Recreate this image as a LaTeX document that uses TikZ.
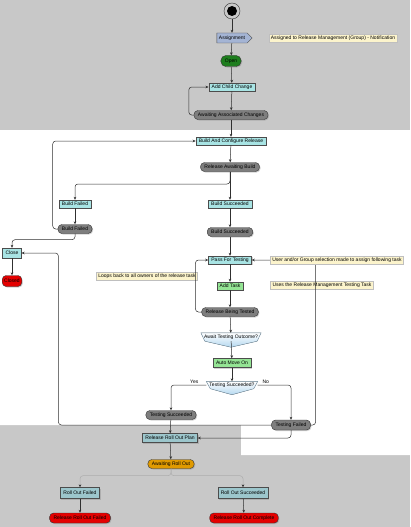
\documentclass[tikz,border=0pt]{standalone}
\usepackage{fontspec}
\setmainfont{Liberation Sans}
\usepackage{tikz}
\usetikzlibrary{
arrows.meta,
positioning,
shapes.symbols,
calc,
backgrounds,
shadows
}
\definecolor{rmgray}{HTML}{C8C8C8}
\definecolor{rmcyan}{HTML}{A8E4E4}
\definecolor{rmteal}{HTML}{9CC6CC}
\definecolor{rmstate}{HTML}{7E7E7E}
\definecolor{rmgreen}{HTML}{1E7E1E}
\definecolor{rmlime}{HTML}{94E494}
\definecolor{rmred}{HTML}{E40000}
\definecolor{rmorange}{HTML}{E09A00}
\definecolor{rmnote}{HTML}{FCF4CC}
\definecolor{rmline}{HTML}{303030}
\definecolor{rmsignal}{HTML}{A4B4D4}
\definecolor{rmdec}{HTML}{B4D8F0}

\newcommand{\decshape}[1]{%
  \begin{scope}[on background layer]
    \filldraw[draw=rmdec!70!black, top color=white, bottom color=rmdec]
      (#1.north west) -- (#1.north east) -- ($(#1.south east)+(-4,0)$)
      -- ($(#1.south)+(0,6)$) -- ($(#1.south west)+(4,0)$) -- cycle;
  \end{scope}}

\begin{document}
\begin{tikzpicture}[
  x=1pt, y=-1pt,
  >={Stealth[length=3pt, width=2.6pt]},
  every node/.style={font=\fontsize{5}{6}\selectfont, inner sep=1pt},
  actbox/.style={
    draw=black!70, fill=rmcyan, minimum height=8pt, inner xsep=3pt,
    drop shadow={shadow xshift=1pt, shadow yshift=-1pt, opacity=.35}
  },
  planbox/.style={actbox, fill=rmteal, minimum height=9pt},
  statebox/.style={
    draw=black!80, fill=rmstate, rounded corners=4pt,
    minimum height=9pt, inner xsep=4pt,
    drop shadow={shadow xshift=1pt, shadow yshift=-1pt, opacity=.35}
  },
  notebox/.style={draw=black!25, fill=rmnote, minimum height=8pt, inner xsep=2pt},
  decbox/.style={minimum height=8pt, inner xsep=3pt},
  flow/.style={->, draw=rmline, line width=0.5pt},
  loopflow/.style={flow, rounded corners=3pt},
  faintflow/.style={-{Stealth[length=3pt, width=2.6pt, color=rmline]},
    draw=black!32, line width=0.5pt, rounded corners=3pt}
]
\useasboundingbox (0,0) rectangle (410,527);

%% ============================================================
%%  BACKGROUND
%% ============================================================
\begin{scope}[on background layer]
  \fill[rmgray] (0,0) rectangle (410,527);
  \fill[white] (0,130) -- (410,130) -- (410,455) -- (241,455)
    -- (241,425) -- (0,425) -- cycle;
\end{scope}

%% ============================================================
%%  ASSIGNMENT
%% ============================================================
\node[circle, draw=black!80, minimum size=16pt, inner sep=0pt] (start) at (232,11) {};
\fill[black] (start.center) circle (5pt);

\node[signal, signal to=east, draw=black!70, fill=rmsignal, minimum height=10pt,
  inner xsep=2pt] (assign) at (232,38) {Assignment};
\node[notebox] (noteassign) at (333,38)
  {Assigned to Release Management (Group) - Notification};

\node[statebox, fill=rmgreen, rounded corners=5pt, minimum height=11pt,
  minimum width=20pt] (open) at (231,61) {Open};

\node[actbox] (addchild) at (232,87) {Add Child Change};
\node[statebox] (awaitassoc) at (231,115) {Awaiting Associated Changes};

\draw[flow] (start) -- (assign);
\draw[flow] (assign) -- (open);
\draw[flow] (open) -- (addchild);
\draw[flow] (addchild) -- (awaitassoc);
\draw[loopflow] (awaitassoc.west) -- ++(-5,0) |- (addchild.west);

%% ============================================================
%%  BUILD
%% ============================================================
\node[actbox] (buildcfg) at (231,141) {Build And Configure Release};
\node[statebox] (relawait) at (230,167) {Release Awaiting Build};
\coordinate (forkbuild) at (230,184);

\node[actbox] (bfailbox) at (75,204) {Build Failed};
\node[statebox] (bfail) at (75,229) {Build Failed};
\node[actbox] (bsuccbox) at (230,204) {Build Succeeded};
\node[statebox] (bsucc) at (230,232) {Build Succeeded};

\node[actbox, minimum height=10pt] (close) at (12,253) {Close};
\node[statebox, fill=rmred, minimum height=11pt, inner xsep=2pt] (closed) at (12,281) {Closed};

\draw[flow] (awaitassoc) -- (buildcfg);
\draw[flow] (buildcfg) -- (relawait);
\draw[flow] (relawait) -- (bsuccbox);
\draw[loopflow] (relawait.south) -- (forkbuild) -| (bfailbox.north);
\draw[flow] (bfailbox) -- (bfail);
\draw[flow] (bsuccbox) -- (bsucc);
\draw[loopflow] (bfail.west) -- ++(-5,0) |- (buildcfg.west);
\draw[loopflow] (bfail.south) -- ++(0,6) -| (close.north);
\draw[flow] (close) -- (closed);

%% ============================================================
%%  TESTING
%% ============================================================
\node[actbox] (passtest) at (230,260) {Pass For Testing};
\node[actbox, fill=rmlime] (addtask) at (230,286) {Add Task};
\node[statebox] (relbeing) at (230,312) {Release Being Tested};

\node[notebox] (noteloops) at (147,276) {Loops back to all owners of the release task};
\node[notebox] (noteuses) at (322,285) {Uses the Release Management Testing Task};

\node[decbox] (awaitout) at (231,337) {Await Testing Outcome?};
\decshape{awaitout}
\node[actbox, fill=rmlime, minimum height=9pt] (automove) at (232,363) {Auto Move On};
\node[decbox, minimum height=7pt] (testdec) at (232,385) {Testing Succeeded?};
\decshape{testdec}

\node[statebox] (tsucc) at (171,415) {Testing Succeeded};
\node[statebox, minimum height=10pt] (tfail) at (291,425) {Testing Failed};

\draw[flow] (bsucc) -- (passtest);
\draw[flow] (passtest) -- (addtask);
\draw[flow] (addtask) -- (relbeing);
\draw[loopflow] (relbeing.west) -- ++(-6,0) |- (passtest.west);
\draw[flow] (relbeing) -- (awaitout);
\draw[flow] (awaitout) -- (automove);
\draw[flow] (automove) -- (testdec);
\draw[loopflow] (testdec.west) -| node[pos=0.17, above, inner sep=1.5pt] {Yes} (tsucc.north);
\draw[loopflow] (testdec.east) -| node[pos=0.12, above, inner sep=1.5pt] {No} (tfail.north);
\draw[loopflow] (tfail.east) -- ++(5,0) |- (passtest.east);
\draw[loopflow] (tfail.west) -- ++(-213,0) |- (close.east);

%% note sits on top of the loop line
\node[notebox] (noteuser) at (337,260)
  {User and/or Group selection made to assign following task};

%% ============================================================
%%  ROLL OUT
%% ============================================================
\node[planbox] (rollplan) at (170,438) {Release Roll Out Plan};
\node[statebox, fill=rmorange] (awaitroll) at (171,464) {Awaiting Roll Out};

\node[planbox, minimum height=11pt] (rofail) at (80,493) {Roll Out Failed};
\node[planbox, minimum height=11pt] (rosucc) at (243,493) {Roll Out Succeeded};
\node[statebox, fill=rmred, minimum height=10pt] (rofailed) at (80,518) {Release Roll Out Failed};
\node[statebox, fill=rmred, minimum height=10pt] (rocomplete) at (244,518) {Release Roll Out Complete};

\draw[flow] (tsucc) -- (rollplan);
\draw[loopflow] (tfail.south) |- (rollplan.east);
\draw[flow] (rollplan) -- (awaitroll);
\draw[faintflow] (awaitroll.south) -- ++(0,7) -| (rofail.north);
\draw[faintflow] (awaitroll.south) -- ++(0,7) -| (rosucc.north);
\draw[flow] (rofail) -- (rofailed);
\draw[flow] (rosucc) -- (rocomplete);

\end{tikzpicture}
\end{document}
